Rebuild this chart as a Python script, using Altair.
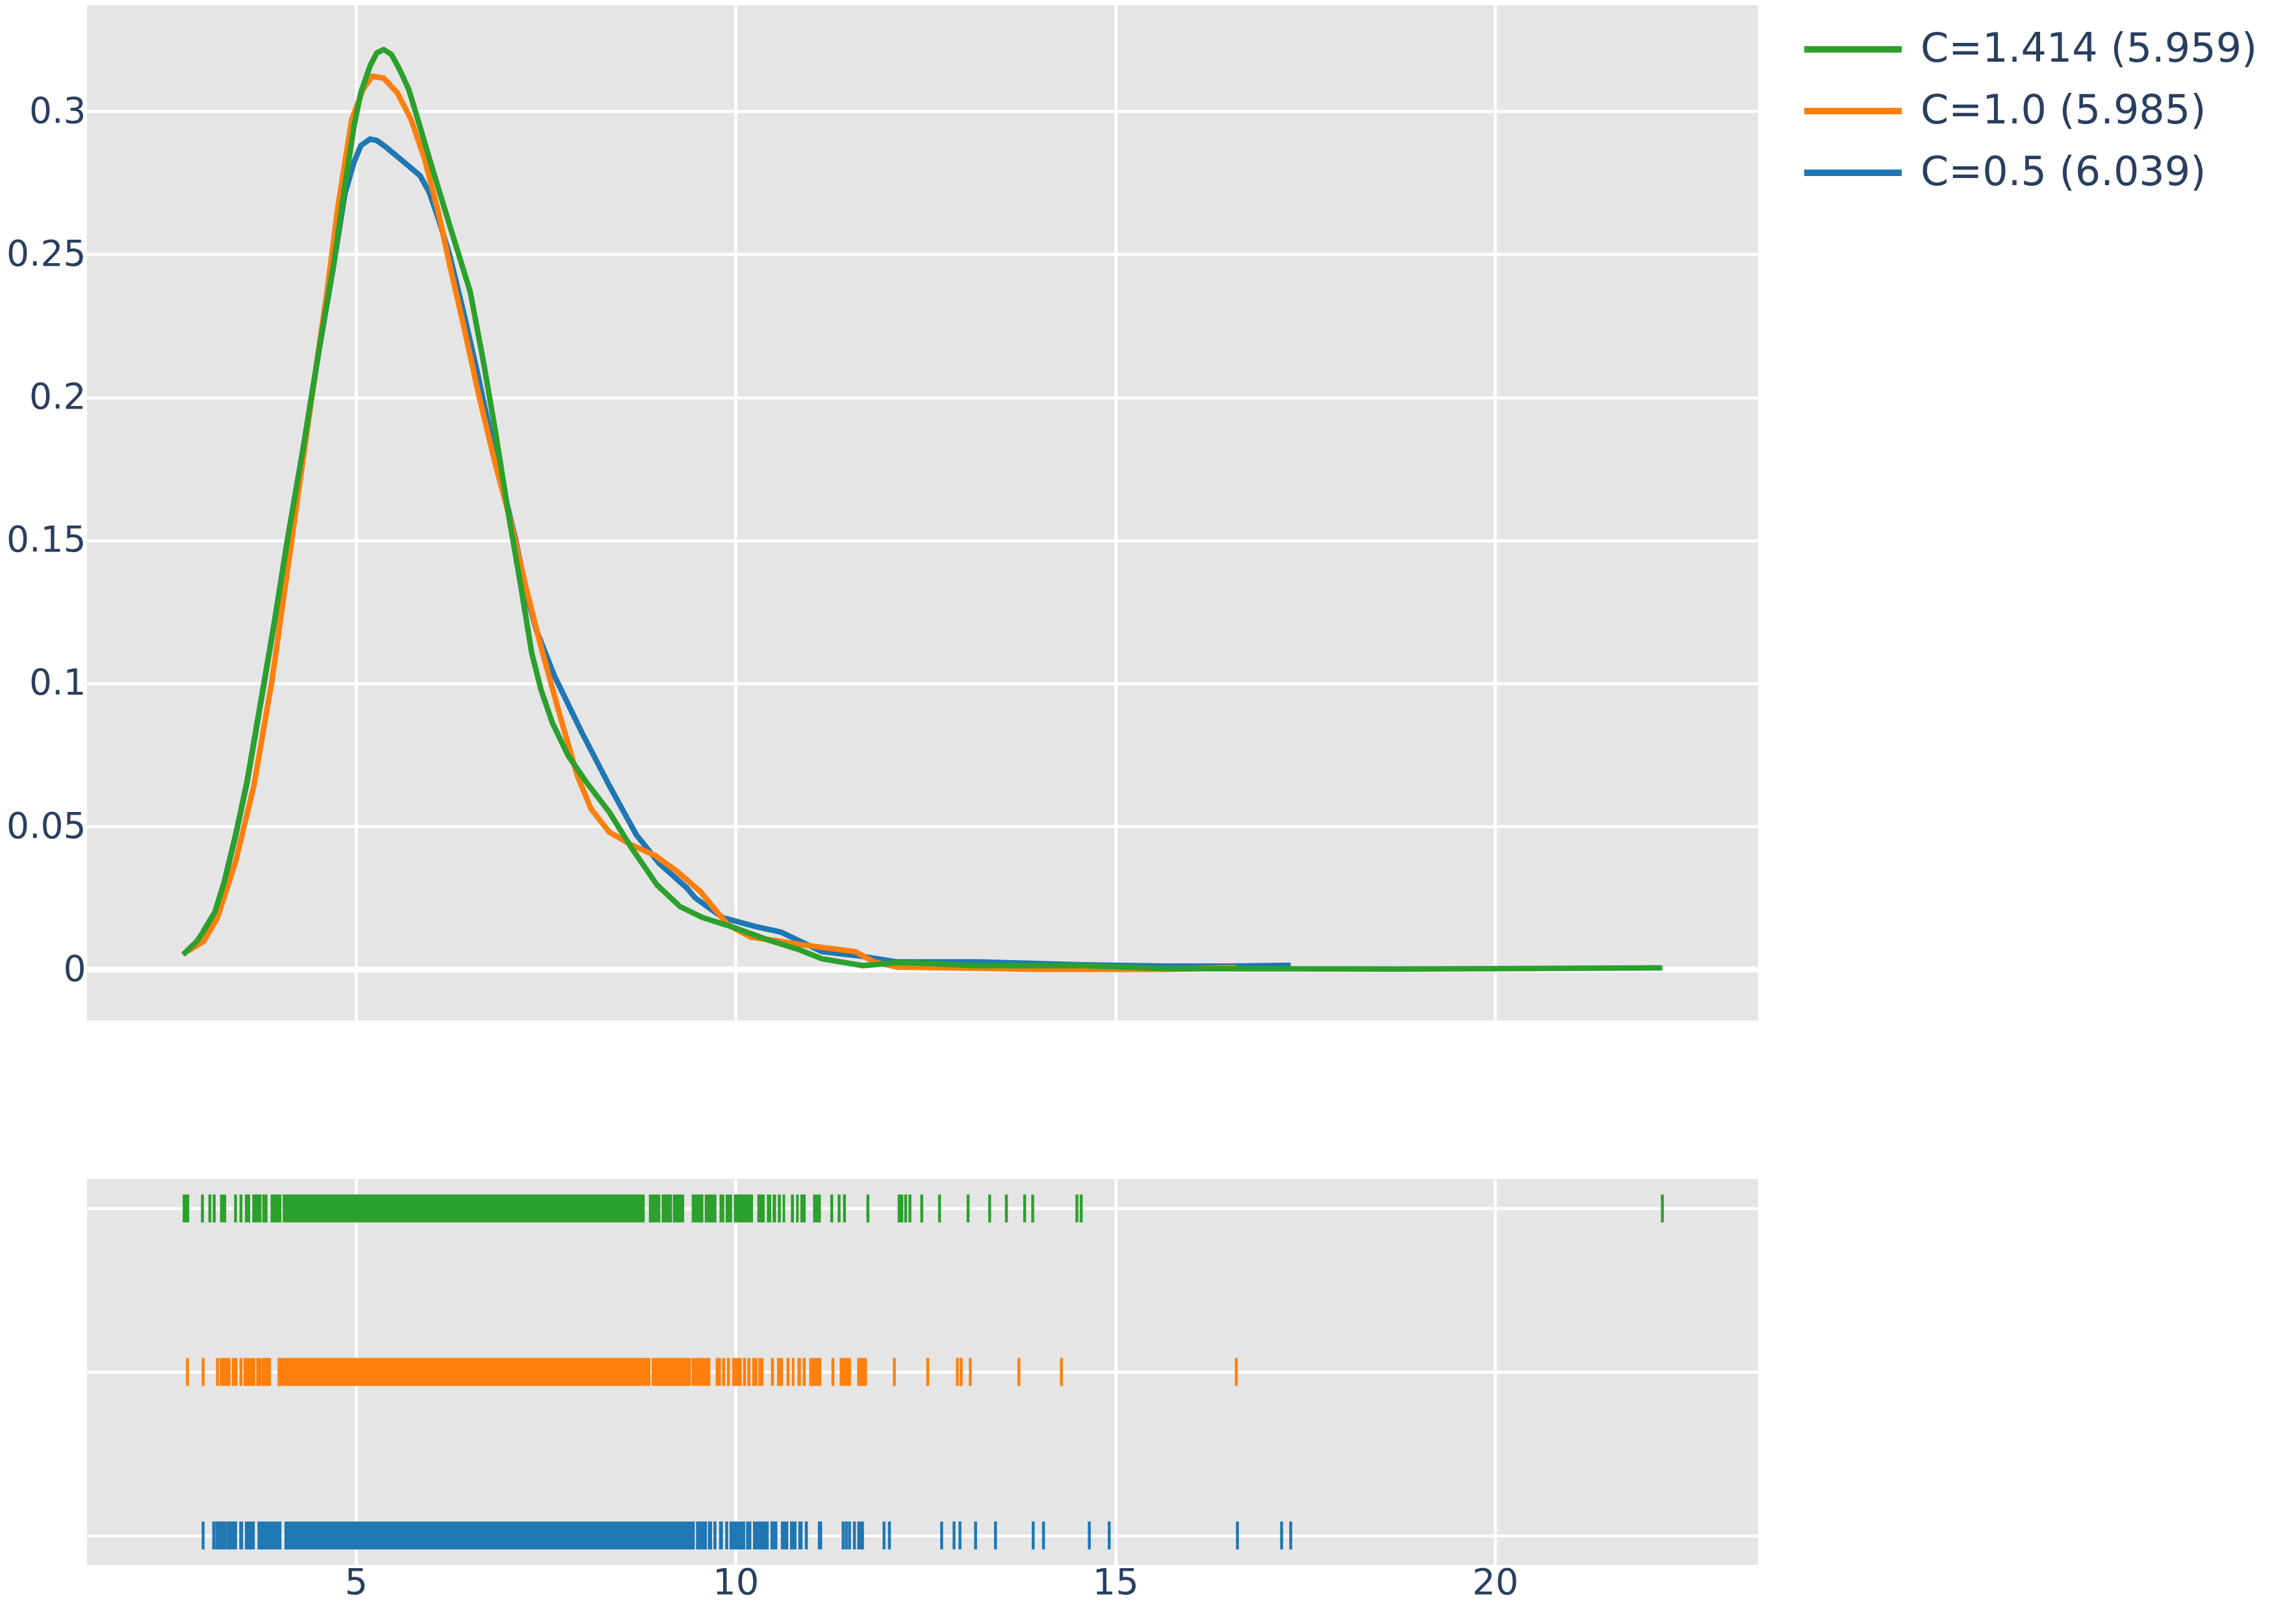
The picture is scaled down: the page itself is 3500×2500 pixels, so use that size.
import altair as alt
import pandas as pd

NAMES = ["C=1.414 (5.959)", "C=1.0 (5.985)", "C=0.5 (6.039)"]
COLORS = ["#2ca02c", "#ff7f0e", "#1f77b4"]

# ---- density curves ----
green_x = [2.725, 2.906, 2.996, 3.146, 3.266, 3.416, 3.566, 3.746, 3.926, 4.106, 4.316, 4.526, 4.706, 4.856, 4.976,
           5.066, 5.186, 5.276, 5.366, 5.468, 5.576, 5.696, 5.816, 5.996, 6.236, 6.506, 6.686, 6.836, 7.016, 7.166,
           7.316, 7.436, 7.586, 7.796, 8.036, 8.336, 8.636, 8.966, 9.270, 9.566, 9.958, 10.436, 10.844, 11.136, 11.677,
           12.118, 12.512, 13.101, 14.572, 15.653, 18.700, 22.202]
green_y = [0.0051, 0.0098, 0.0133, 0.0202, 0.0305, 0.0469, 0.0654, 0.0932, 0.1211, 0.1512, 0.1836, 0.2184, 0.2462,
           0.2740, 0.2949, 0.3065, 0.3158, 0.3204, 0.3216, 0.3199, 0.3146, 0.3077, 0.2972, 0.2810, 0.2601, 0.2369,
           0.2115, 0.1883, 0.1581, 0.1350, 0.1106, 0.0979, 0.0863, 0.0747, 0.0654, 0.0550, 0.0422, 0.0295, 0.0219,
           0.0181, 0.0148, 0.0102, 0.0068, 0.0037, 0.0013, 0.0023, 0.0021, 0.0013, 0.0013, 0.0002, 0.0001, 0.0005]

orange_x = [2.783, 2.996, 3.176, 3.416, 3.656, 3.896, 4.076, 4.256, 4.436, 4.616, 4.766, 4.946, 5.096, 5.216, 5.366,
            5.546, 5.726, 5.906, 6.086, 6.236, 6.416, 6.626, 6.836, 7.046, 7.226, 7.436, 7.676, 7.916, 8.096, 8.336,
            8.636, 8.936, 9.236, 9.536, 9.896, 10.196, 10.616, 10.842, 11.578, 11.820, 12.118, 13.985, 15.653, 16.593]
orange_y = [0.0063, 0.0098, 0.0179, 0.0376, 0.0640, 0.1010, 0.1350, 0.1690, 0.2030, 0.2360, 0.2670, 0.2972, 0.3077,
            0.3123, 0.3116, 0.3065, 0.2972, 0.2833, 0.2647, 0.2462, 0.2254, 0.1999, 0.1767, 0.1558, 0.1350, 0.1129,
            0.0898, 0.0677, 0.0561, 0.0480, 0.0434, 0.0399, 0.0341, 0.0272, 0.0156, 0.0113, 0.0097, 0.0087, 0.0062,
            0.0026, 0.0008, 0.0000, 0.0000, 0.0006]

blue_x = [2.989, 3.146, 3.266, 3.416, 3.566, 3.746, 3.926, 4.106, 4.316, 4.526, 4.706, 4.856, 4.976, 5.066, 5.186,
          5.276, 5.396, 5.636, 5.846, 5.966, 6.086, 6.236, 6.416, 6.596, 6.746, 6.926, 7.106, 7.256, 7.376, 7.616,
          7.976, 8.336, 8.696, 8.996, 9.356, 9.467, 9.836, 10.256, 10.596, 11.136, 11.627, 12.118, 13.198, 14.572,
          15.653, 16.537, 17.309]
blue_y = [0.0132, 0.0200, 0.0303, 0.0467, 0.0652, 0.0930, 0.1210, 0.1511, 0.1835, 0.2183, 0.2460, 0.2712, 0.2822,
          0.2880, 0.2903, 0.2898, 0.2875, 0.2822, 0.2775, 0.2717, 0.2625, 0.2497, 0.2300, 0.2091, 0.1906, 0.1697,
          0.1500, 0.1303, 0.1187, 0.1025, 0.0828, 0.0643, 0.0469, 0.0370, 0.0285, 0.0250, 0.0180, 0.0150, 0.0130,
          0.0062, 0.0047, 0.0026, 0.0026, 0.0016, 0.0011, 0.0011, 0.0014]

# ---- rug: isolated samples and runs of samples that merge into solid bands ----
green_ticks = [2.980, 3.078, 3.135, 3.416, 3.487, 11.266, 11.363, 11.433, 11.742, 12.153, 12.188, 12.239, 12.295,
               12.451, 12.685, 13.061, 13.345, 13.565, 13.806, 13.912, 14.494, 14.550, 22.202]
green_lo = [2.720, 3.212, 3.539, 3.636, 3.768, 3.877, 4.037, 8.858, 9.026, 9.174, 9.422, 9.593, 9.788, 9.868, 9.977,
            10.286, 10.412, 10.487, 10.556, 10.619, 10.728, 10.796, 10.853, 11.020]
green_hi = [2.806, 3.293, 3.608, 3.757, 3.837, 4.020, 8.803, 9.009, 9.163, 9.323, 9.576, 9.748, 9.851, 9.954, 10.229,
            10.383, 10.469, 10.533, 10.596, 10.653, 10.768, 10.830, 10.922, 11.123]

orange_ticks = [2.783, 2.989, 3.178, 3.487, 11.281, 12.09, 12.53, 12.92, 12.97, 13.09, 13.73, 14.29, 16.593]
orange_lo = [3.207, 3.367, 3.522, 3.688, 3.762, 3.969, 8.895, 9.422, 9.737, 9.823, 9.886, 9.955, 10.098, 10.155,
             10.218, 10.299, 10.465, 10.545, 10.671, 10.740, 10.814, 10.883, 10.969, 11.370, 11.444, 11.600]
orange_hi = [3.350, 3.442, 3.676, 3.757, 3.883, 8.878, 9.411, 9.669, 9.806, 9.863, 9.926, 10.081, 10.138, 10.195,
             10.287, 10.367, 10.505, 10.625, 10.711, 10.774, 10.860, 10.923, 11.129, 11.444, 11.520, 11.730]

blue_ticks = [2.989, 11.416, 11.458, 11.500, 11.564, 11.954, 12.025, 12.713, 12.876, 12.954, 13.160, 13.422, 13.918,
              14.054, 14.657, 14.919, 16.607, 17.189, 17.309]
blue_lo = [3.109, 3.149, 3.298, 3.465, 3.539, 3.705, 4.060, 9.479, 9.634, 9.708, 9.782, 9.863, 9.920, 10.138, 10.229,
           10.459, 10.596, 10.717, 10.825, 10.911, 11.083, 11.602]
blue_hi = [3.149, 3.298, 3.436, 3.516, 3.670, 4.020, 9.462, 9.622, 9.691, 9.748, 9.834, 9.903, 10.126, 10.207, 10.436,
           10.550, 10.694, 10.802, 10.882, 10.951, 11.140, 11.690]

x_ticks = [5, 10, 15, 20]
y_ticks = [0, 0.05, 0.1, 0.15, 0.2, 0.25, 0.3]

# ---- tables ----
curve_rows = []
for name, xs, ys in [(NAMES[2], blue_x, blue_y), (NAMES[1], orange_x, orange_y), (NAMES[0], green_x, green_y)]:
    for a, b in zip(xs, ys):
        curve_rows.append({"series": name, "x": a, "y": b})
curves = pd.DataFrame(curve_rows)

tick_rows, band_rows = [], []
for name, tk, lo, hi in [(NAMES[0], green_ticks, green_lo, green_hi),
                         (NAMES[1], orange_ticks, orange_lo, orange_hi),
                         (NAMES[2], blue_ticks, blue_lo, blue_hi)]:
    for t in tk:
        tick_rows.append({"series": name, "v": t})
    for a, b in zip(lo, hi):
        band_rows.append({"series": name, "lo": a, "hi": b})
ticks_df = pd.DataFrame(tick_rows)
bands_df = pd.DataFrame(band_rows)

TEXT = "#2a3f5f"
FONT = "DejaVu Sans"
FS_X = 56
FS_Y = 55
GW = 4.5
W = 2572

xscale = alt.Scale(domain=[1.461, 23.463], nice=False, zero=False)
color_scale = alt.Scale(domain=NAMES, range=COLORS)

legend = alt.Legend(
    title=None, orient="none", legendX=2683, legendY=33, padding=0,
    symbolType="M-2.5,0H2.5", symbolSize=3600, symbolStrokeWidth=10,
    labelFont=FONT, labelFontSize=62, labelColor=TEXT, labelLimit=2000,
    labelOffset=69, rowPadding=29,
)

top_x = alt.X("x:Q", scale=xscale,
              axis=alt.Axis(values=x_ticks, labels=False, ticks=False, domain=False, title=None,
                            grid=True, gridColor="white", gridWidth=GW))
top_y = alt.Y("y:Q", scale=alt.Scale(domain=[-0.0179, 0.3371], nice=False, zero=False),
              axis=alt.Axis(values=y_ticks, format="~g", title=None, ticks=False, domain=False,
                            labelPadding=2, labelFont=FONT, labelFontSize=FS_Y, labelColor=TEXT,
                            grid=True, gridColor="white",
                            gridWidth=alt.condition("datum.value === 0", alt.value(9), alt.value(GW))))


def curve(name):
    return alt.Chart(curves).transform_filter(alt.datum.series == name).mark_line(
        strokeWidth=8.5, clip=True, strokeJoin="round"
    ).encode(
        x=top_x, y=top_y,
        color=alt.Color("series:N", scale=color_scale, legend=legend),
        order=alt.Order("x:Q"),
    )


top = alt.layer(curve(NAMES[2]), curve(NAMES[1]), curve(NAMES[0])).properties(width=W, height=1563)

rug_x_axis = alt.Axis(values=x_ticks, title=None, ticks=False, domain=False, labelPadding=0,
                      labelFont=FONT, labelFontSize=FS_X, labelColor=TEXT,
                      grid=True, gridColor="white", gridWidth=GW)
rug_y = alt.Y("series:N", scale=alt.Scale(domain=NAMES, type="point", padding=0.18),
              axis=alt.Axis(labels=False, ticks=False, domain=False, title=None,
                            grid=True, gridColor="white", gridWidth=GW))
rug_color = alt.Color("series:N", scale=color_scale, legend=None)

bands = alt.Chart(bands_df).mark_bar(size=43, opacity=1).encode(
    x=alt.X("lo:Q", scale=xscale, axis=rug_x_axis), x2="hi:Q", y=rug_y, color=rug_color)
ticks = alt.Chart(ticks_df).mark_tick(size=43, thickness=4.5, orient="vertical", opacity=1).encode(
    x=alt.X("v:Q", scale=xscale, axis=rug_x_axis), y=rug_y, color=rug_color)

rug = alt.layer(bands, ticks).properties(width=W, height=594)

chart = alt.vconcat(top, rug, spacing=244).resolve_scale(color="independent").properties(
    padding={"left": 1, "top": 0, "right": 0, "bottom": 0}, background="white"
).configure_view(fill="#E5E5E5", stroke=None)

chart.save("out.html", embed_options={"renderer": "svg", "actions": False})
